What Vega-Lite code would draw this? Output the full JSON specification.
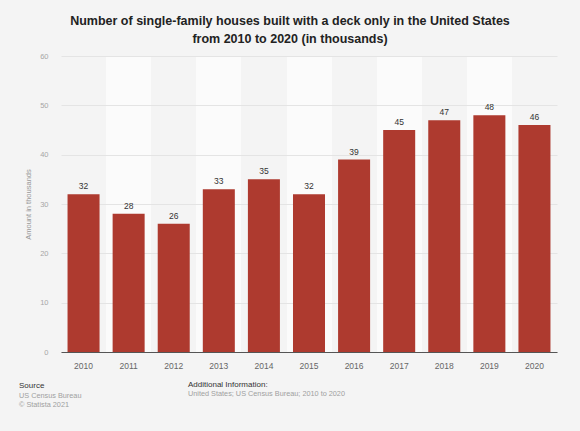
{
  "$schema": "https://vega.github.io/schema/vega-lite/v6.json",
  "description": "Single-family houses built with a deck only, US, 2010-2020",
  "autosize": "none",
  "width": 496,
  "height": 296,
  "padding": {"top": 56, "left": 61, "right": 23, "bottom": 79},
  "background": "#f4f4f4",
  "title": {
    "text": ["Number of single-family houses built with a deck only in the United States", "from 2010 to 2020 (in thousands)"],
    "fontSize": 12.5,
    "fontWeight": "bold",
    "color": "#222222",
    "anchor": "middle",
    "dx": -19,
    "offset": 7,
    "lineHeight": 18
  },
  "layer": [
    {
      "data": {
        "values": [
          {"year": 2010, "houses": 32},
          {"year": 2011, "houses": 28},
          {"year": 2012, "houses": 26},
          {"year": 2013, "houses": 33},
          {"year": 2014, "houses": 35},
          {"year": 2015, "houses": 32},
          {"year": 2016, "houses": 39},
          {"year": 2017, "houses": 45},
          {"year": 2018, "houses": 47},
          {"year": 2019, "houses": 48},
          {"year": 2020, "houses": 46}
        ]
      },
      "encoding": {
        "x": {
          "field": "year",
          "type": "ordinal",
          "scale": {"paddingInner": 0, "paddingOuter": 0},
          "axis": {
            "title": null,
            "labelAngle": 0,
            "ticks": false,
            "bandPosition": 0.5,
            "domain": true,
            "domainColor": "#555555",
            "domainWidth": 1,
            "labelColor": "#666666",
            "labelFontSize": 8.5,
            "labelPadding": 9,
            "grid": true,
            "gridWidth": 45.1,
            "gridColor": {"condition": {"test": "datum.value % 2 == 1", "value": "#fbfbfb"}, "value": "transparent"}
          }
        }
      },
      "layer": [
        {
          "mark": {"type": "bar", "color": "#ae3a2f", "width": {"band": 0.71}},
          "encoding": {
            "y": {
              "field": "houses",
              "type": "quantitative",
              "scale": {"domain": [0, 60]},
              "axis": {
                "values": [0, 10, 20, 30, 40, 50, 60],
                "title": "Amount in thousands",
                "titleColor": "#999999",
                "titleFontSize": 7.5,
                "titleFontWeight": "normal",
                "titlePadding": 7,
                "domain": false,
                "ticks": false,
                "labelColor": "#a6a6a6",
                "labelFontSize": 7.5,
                "labelPadding": 13,
                "grid": true,
                "gridColor": "#e4e4e4",
                "gridWidth": 1
              }
            }
          }
        },
        {
          "mark": {"type": "text", "fontSize": 8.5, "color": "#333333", "baseline": "middle", "dy": -8},
          "encoding": {
            "y": {"field": "houses", "type": "quantitative"},
            "text": {"field": "houses", "type": "quantitative"}
          }
        }
      ]
    },
    {
      "data": {
        "values": [
          {"text": "Source", "col": 0, "line": 0, "kind": "head"},
          {"text": "US Census Bureau", "col": 0, "line": 1, "kind": "body"},
          {"text": "© Statista 2021", "col": 0, "line": 2, "kind": "body"},
          {"text": "Additional Information:", "col": 1, "line": -0.15, "kind": "head"},
          {"text": "United States; US Census Bureau; 2010 to 2020", "col": 1, "line": 0.85, "kind": "body"}
        ]
      },
      "encoding": {
        "x": {"field": "col", "type": "quantitative", "scale": {"domain": [0, 1], "range": [-42, 127]}, "axis": null},
        "y": {"field": "line", "type": "quantitative", "scale": {"domain": [0, 2], "range": [330, 349]}, "axis": null},
        "text": {"field": "text"}
      },
      "layer": [
        {
          "transform": [{"filter": "datum.kind == 'head'"}],
          "mark": {"type": "text", "align": "left", "baseline": "middle", "fontSize": 8, "color": "#333333"}
        },
        {
          "transform": [{"filter": "datum.kind == 'body'"}],
          "mark": {"type": "text", "align": "left", "baseline": "middle", "fontSize": 7.3, "color": "#a0a0a0"}
        }
      ]
    }
  ],
  "resolve": {"scale": {"x": "independent", "y": "independent"}},
  "config": {
    "font": "Liberation Sans",
    "view": {"stroke": null}
  }
}
